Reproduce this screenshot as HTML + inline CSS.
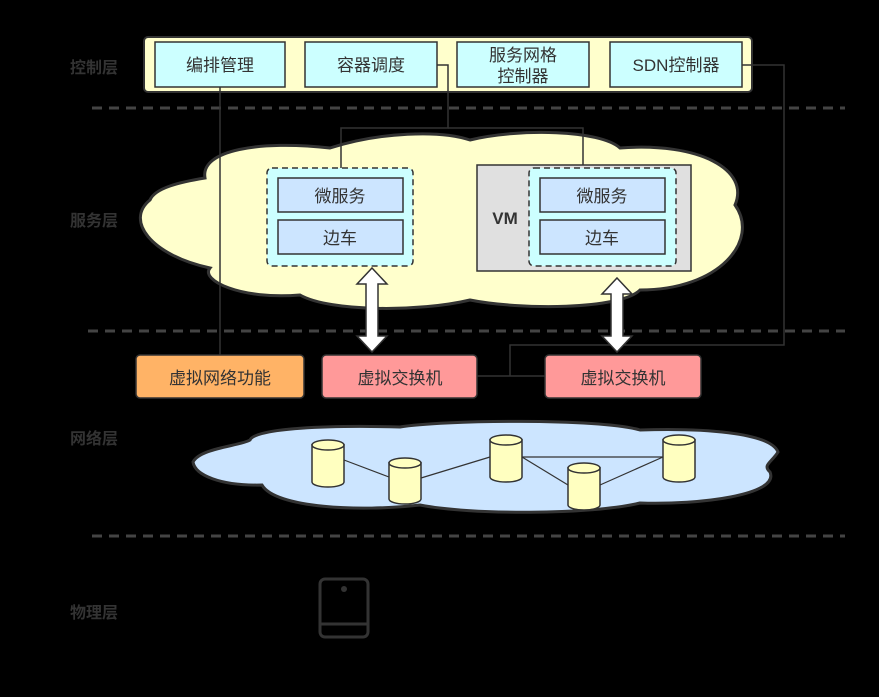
<!DOCTYPE html>
<html><head><meta charset="utf-8"><style>
html,body{margin:0;padding:0;background:#000;}
svg{display:block;font-family:"Liberation Sans","Noto Sans CJK SC",sans-serif;}
</style></head><body>
<svg width="879" height="697" viewBox="0 0 879 697" xmlns="http://www.w3.org/2000/svg">
<rect width="879" height="697" fill="#000"/>
<g font-size="16" font-weight="bold" fill="#333">
<text x="70" y="73">控制层</text>
<text x="70" y="226">服务层</text>
<text x="70" y="444">网络层</text>
<text x="70" y="618">物理层</text>
</g>
<g stroke="#444" stroke-width="3" stroke-dasharray="10,7">
<line x1="92" y1="108" x2="845" y2="108"/>
<line x1="88" y1="331" x2="845" y2="331"/>
<line x1="92" y1="536" x2="845" y2="536"/>
</g>
<!-- service cloud -->
<path d="M205,178 C200,150 260,140 330,148 C380,132 440,130 470,140 C520,128 600,130 620,148 C700,142 750,170 735,205 C760,240 720,290 640,290 C620,310 520,310 470,300 C420,312 330,312 300,295 C240,300 200,280 210,268 C150,255 125,220 150,200 C155,188 180,182 205,178 Z" fill="#ffffcc" stroke="#333" stroke-width="3"/>
<!-- control bar -->
<rect x="144" y="37" width="608" height="55" rx="4" fill="#ffffcc" stroke="#333" stroke-width="2"/>
<g fill="#ccffff" stroke="#333" stroke-width="1.5">
<rect x="155" y="42" width="130" height="45"/>
<rect x="305" y="42" width="132" height="45"/>
<rect x="457" y="42" width="132" height="45"/>
<rect x="610" y="42" width="132" height="45"/>
</g>
<g font-size="17" fill="#333" text-anchor="middle">
<text x="220" y="71">编排管理</text>
<text x="371" y="71">容器调度</text>
<text x="523" y="61">服务网格</text>
<text x="523" y="82">控制器</text>
<text x="676" y="71">SDN控制器</text>
</g>
<!-- connectors -->
<g fill="none" stroke="#333" stroke-width="1.5">
<polyline points="220,87 220,355"/>
<polyline points="437,65 448,65 448,128 341,128 341,168"/>
<polyline points="448,128 583,128 583,168"/>
<polyline points="742,65 784,65 784,345 510,345 510,376"/>
<line x1="477" y1="376" x2="545" y2="376"/>
</g>
<!-- VM -->
<rect x="477" y="165" width="214" height="106" fill="#e0e0e0" stroke="#333" stroke-width="1.5"/>
<text x="505" y="224" font-size="17" font-weight="bold" fill="#333" text-anchor="middle">VM</text>
<g fill="#ccffff" stroke="#333" stroke-width="1.5" stroke-dasharray="6,4">
<rect x="267" y="168" width="146" height="98" rx="5"/>
<rect x="529" y="168" width="147" height="98" rx="5"/>
</g>
<g fill="#cce5ff" stroke="#333" stroke-width="1.5">
<rect x="278" y="178" width="125" height="34"/>
<rect x="278" y="220" width="125" height="34"/>
<rect x="540" y="178" width="125" height="34"/>
<rect x="540" y="220" width="125" height="34"/>
</g>
<g font-size="17" fill="#333" text-anchor="middle">
<text x="340" y="202">微服务</text>
<text x="340" y="244">边车</text>
<text x="602" y="202">微服务</text>
<text x="602" y="244">边车</text>
</g>
<!-- double arrows -->
<g fill="#fff" stroke="#333" stroke-width="1.5">
<path d="M372,268 L387,284 L378,284 L378,336 L387,336 L372,352 L357,336 L366,336 L366,284 L357,284 Z"/>
<path d="M617,278 L632,294 L623,294 L623,336 L632,336 L617,352 L602,336 L611,336 L611,294 L602,294 Z"/>
</g>
<!-- bottom boxes -->
<rect x="136" y="355" width="168" height="43" rx="4" fill="#ffb366" stroke="#333" stroke-width="1.5"/>
<rect x="322" y="355" width="155" height="43" rx="4" fill="#ff9999" stroke="#333" stroke-width="1.5"/>
<rect x="545" y="355" width="156" height="43" rx="4" fill="#ff9999" stroke="#333" stroke-width="1.5"/>
<g font-size="17" fill="#333" text-anchor="middle">
<text x="220" y="384">虚拟网络功能</text>
<text x="400" y="384">虚拟交换机</text>
<text x="623" y="384">虚拟交换机</text>
</g>
<!-- network cloud -->
<path d="M250,440 C255,428 330,425 400,427 C440,420 600,418 640,430 C700,428 770,432 778,452 C772,462 762,465 770,472 C780,495 700,505 640,503 C590,515 470,515 420,505 C360,512 275,508 262,485 C220,486 195,475 193,462 C200,448 240,446 250,440 Z" fill="#cce5ff" stroke="#333" stroke-width="3"/>
<g stroke="#333" stroke-width="1.2" fill="none">
<line x1="344" y1="460" x2="389" y2="477"/>
<line x1="421" y1="478" x2="490" y2="457"/>
<line x1="522" y1="457" x2="663" y2="457"/>
<line x1="522" y1="457" x2="568" y2="485"/>
<line x1="600" y1="485" x2="663" y2="457"/>
</g>
<g fill="#ffffc0" stroke="#333" stroke-width="1.5">
<path d="M312,445 L312,482 A16,5 0 0 0 344,482 L344,445 Z"/><ellipse cx="328" cy="445" rx="16" ry="5"/>
<path d="M389,463 L389,499 A16,5 0 0 0 421,499 L421,463 Z"/><ellipse cx="405" cy="463" rx="16" ry="5"/>
<path d="M490,440 L490,477 A16,5 0 0 0 522,477 L522,440 Z"/><ellipse cx="506" cy="440" rx="16" ry="5"/>
<path d="M568,468 L568,505 A16,5 0 0 0 600,505 L600,468 Z"/><ellipse cx="584" cy="468" rx="16" ry="5"/>
<path d="M663,440 L663,477 A16,5 0 0 0 695,477 L695,440 Z"/><ellipse cx="679" cy="440" rx="16" ry="5"/>
</g>
<!-- physical icon -->
<rect x="320" y="579" width="48" height="58" rx="5" fill="none" stroke="#333" stroke-width="3"/>
<line x1="320" y1="624" x2="368" y2="624" stroke="#333" stroke-width="3"/>
<circle cx="344" cy="589" r="3" fill="#333"/>
</svg>
</body></html>
